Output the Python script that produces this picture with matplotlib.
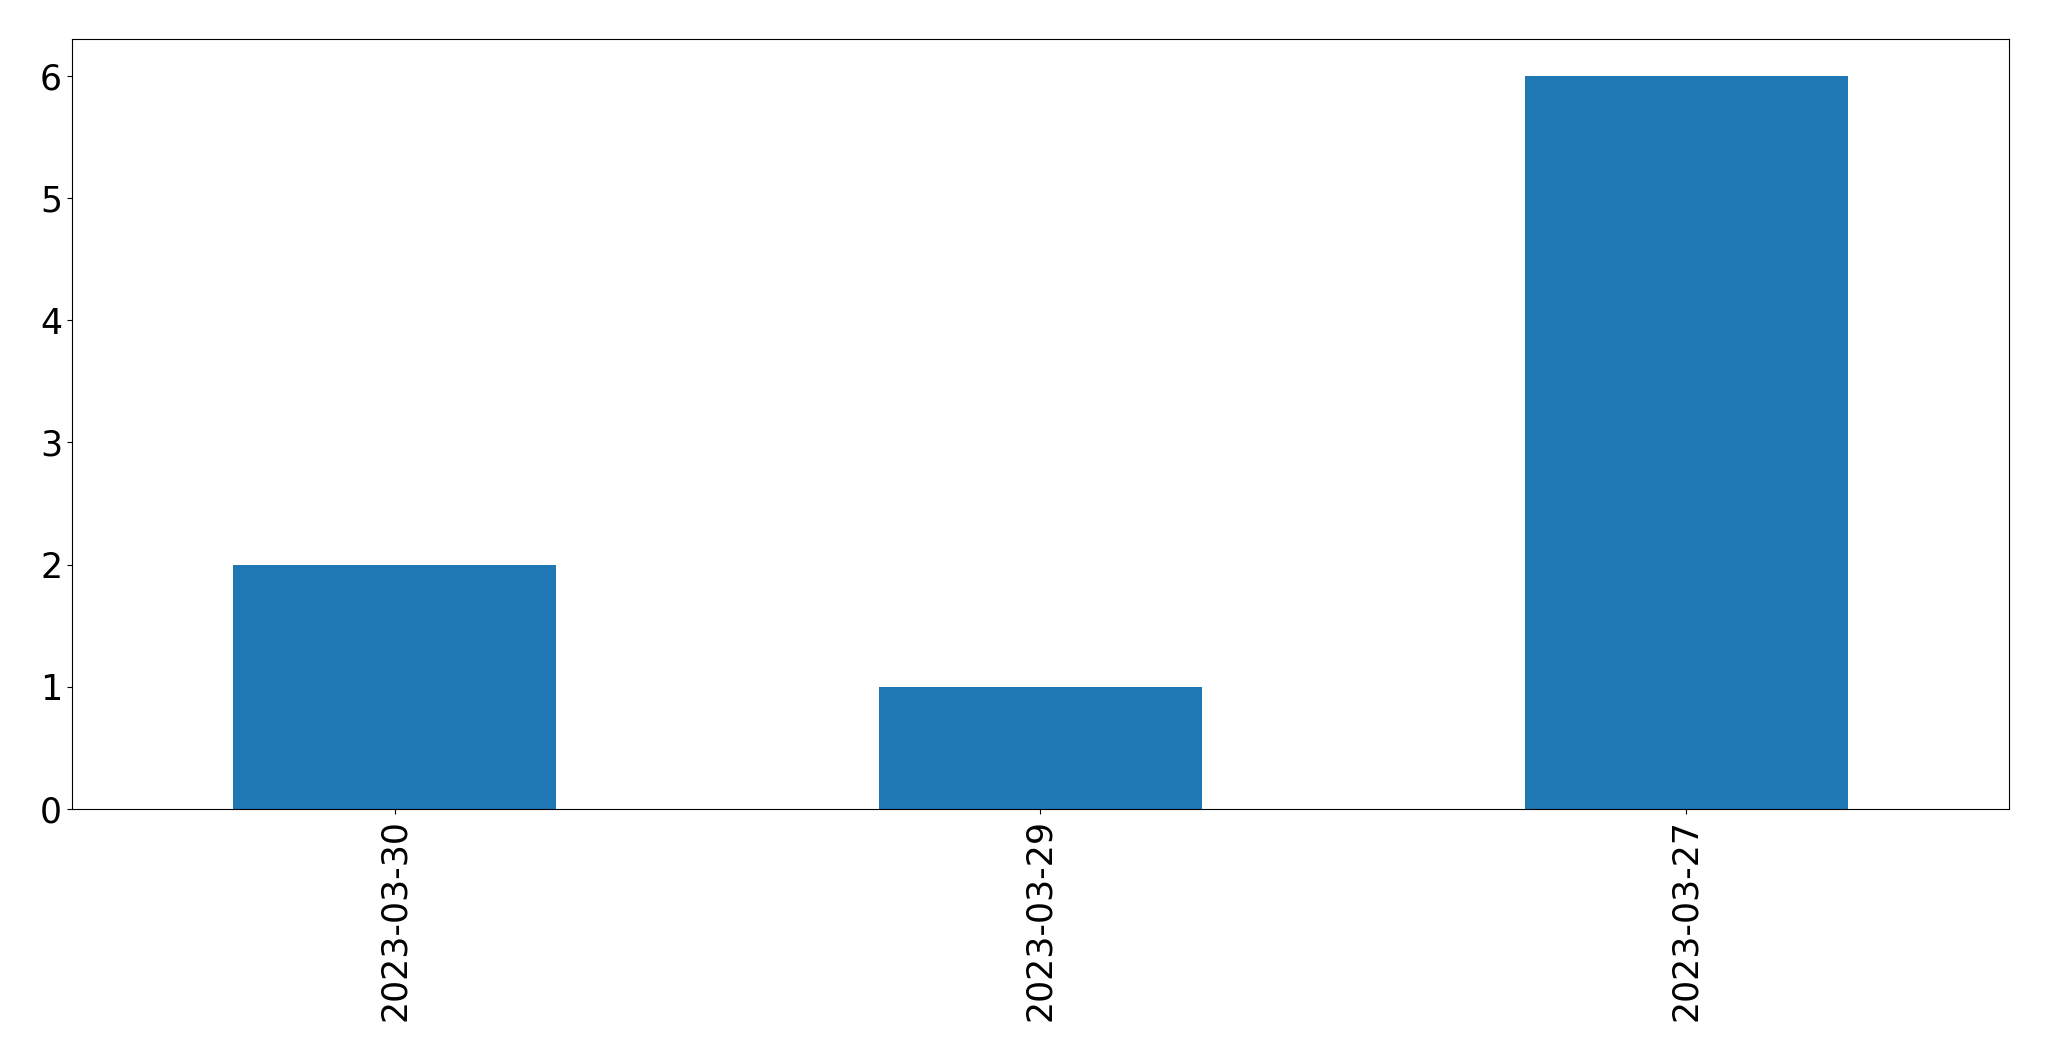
import matplotlib
matplotlib.use("Agg")
import matplotlib.pyplot as plt
import pandas as pd

dates = ["2023-03-30", "2023-03-29", "2023-03-27"]
counts = [2, 1, 6]

s = pd.Series(counts, index=dates)

fig, ax = plt.subplots(figsize=(20.49, 10.61), dpi=100)
s.plot.bar(ax=ax, color="#1f77b4", fontsize=25)
ax.tick_params(axis="x", labelrotation=90)
fig.subplots_adjust(left=0.0351, right=0.9805, top=0.9632, bottom=0.2375)
fig.savefig("out.png", dpi=100)
